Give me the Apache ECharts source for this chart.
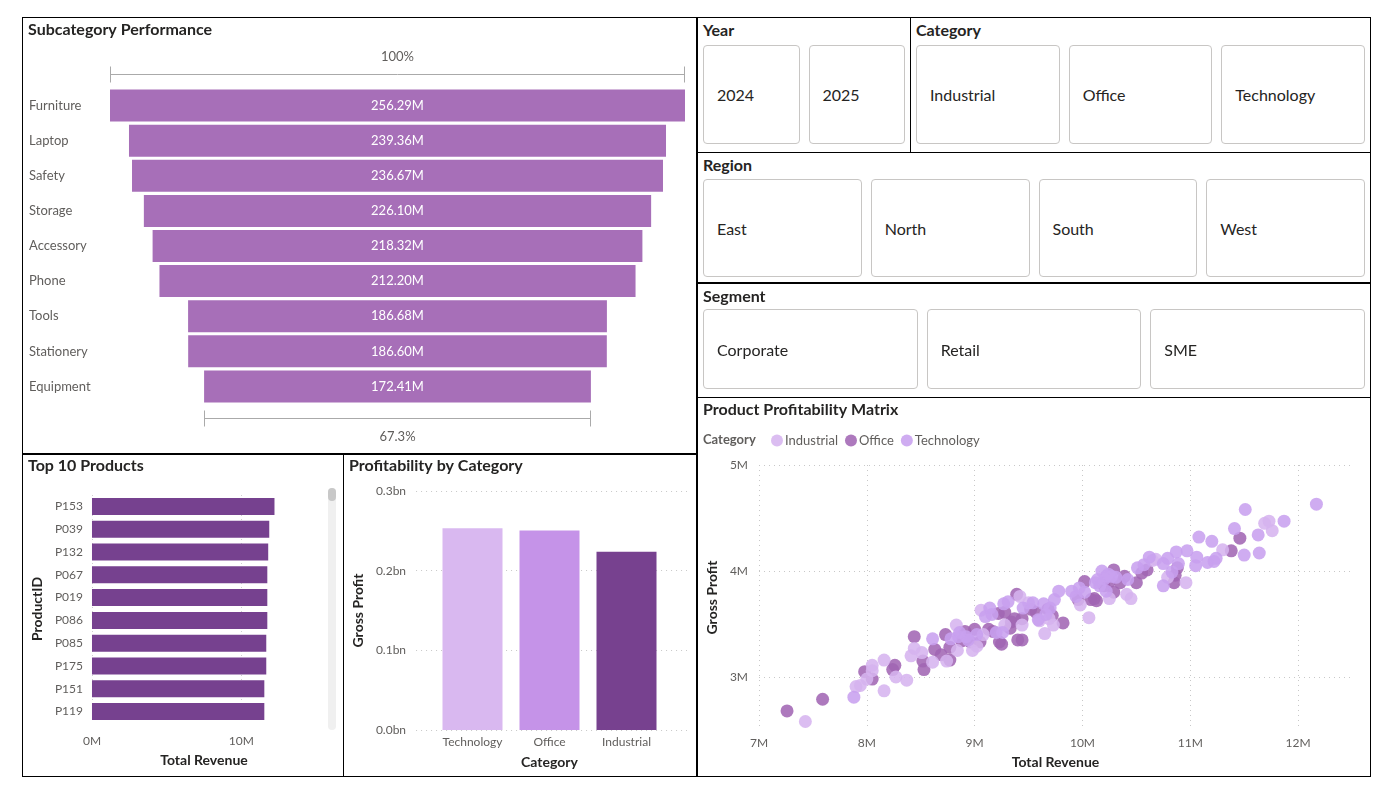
<!DOCTYPE html>
<html>
<head>
<meta charset="utf-8">
<title>Sales Dashboard</title>
<script src="https://cdn.jsdelivr.net/npm/echarts@6/dist/echarts.min.js"></script>
<style>
  body { margin: 0; background: #fff; font-family: Lato, "Open Sans", sans-serif; }
  .chart { position: absolute; }
  .frame { position: absolute; box-sizing: border-box; border: 1px solid #000; pointer-events: none; }
  .panel { position: absolute; box-sizing: border-box; border: 1px solid #000; }
  .panel-title { position: absolute; left: 5px; top: 2px; font: bold 16px Lato, sans-serif; color: #252423; line-height: 20px; }
  .btn { position: absolute; box-sizing: border-box; border: 1px solid #C8C6C4; border-radius: 4px;
         display: flex; align-items: center; padding-left: 13px; font: 16px Lato, sans-serif; color: #252423; }
</style>
</head>
<body>
<div id="funnel" class="chart" style="left:22px;top:17px;width:674px;height:436px"></div>
<div id="top10" class="chart" style="left:22px;top:455px;width:321px;height:321px"></div>
<div id="profit" class="chart" style="left:343px;top:455px;width:353px;height:321px"></div>
<div id="scatter" class="chart" style="left:697px;top:398px;width:673px;height:378px"></div>
<div class="frame" style="left:22px;top:17px;width:675px;height:437px"></div>
<div class="frame" style="left:22px;top:454px;width:322px;height:323px"></div>
<div class="frame" style="left:343px;top:454px;width:354px;height:323px"></div>
<div class="frame" style="left:697px;top:397px;width:674px;height:380px"></div>
<div id="slicers"></div>
<script>
// slicer values
const years = ['2024', '2025'];
const categories = ['Industrial', 'Office', 'Technology'];
const regions = ['East', 'North', 'South', 'West'];
const segments = ['Corporate', 'Retail', 'SME'];

// subcategory revenue (M)
const subcats = ['Furniture', 'Laptop', 'Safety', 'Storage', 'Accessory', 'Phone', 'Tools', 'Stationery', 'Equipment'];
const subcatRevenue = [256.29, 239.36, 236.67, 226.10, 218.32, 212.20, 186.68, 186.60, 172.41];

// top 10 products by revenue (M)
const topProducts = ['P153', 'P039', 'P132', 'P067', 'P019', 'P086', 'P085', 'P175', 'P151', 'P119'];
const topRevenue = [12.22, 11.87, 11.8, 11.74, 11.74, 11.74, 11.67, 11.67, 11.54, 11.54];

// gross profit by category (bn)
const profitCats = ['Technology', 'Office', 'Industrial'];
const grossProfitBn = [0.2532, 0.2503, 0.2237];

// product points: [total revenue M, gross profit M]
const industrialPts = [[7.43,2.58],[7.90,2.91],[7.94,2.92],[8.00,2.98],[8.05,3.11],[8.05,3.06],[8.16,3.16],[8.16,2.87],[8.27,3.00],[8.37,2.97],[8.41,3.20],[8.44,3.27],[8.51,3.23],[8.61,3.14],[8.74,3.15],[8.83,3.49],[8.84,3.25],[8.98,3.25],[9.06,3.63],[9.08,3.40],[9.28,3.49],[9.42,3.76],[9.44,3.49],[9.60,3.53],[9.65,3.41],[9.69,3.55],[9.73,3.49],[9.98,3.68],[10.06,3.56],[10.25,3.74],[10.41,3.78],[10.45,3.74],[10.65,4.10],[10.68,4.11],[10.79,3.94],[10.96,3.89],[11.30,4.20],[11.69,4.45],[11.73,4.47],[11.76,4.38],[9.02,3.29],[9.50,3.70]];
const officePts = [[7.26,2.68],[7.59,2.79],[7.98,3.05],[8.05,2.98],[8.24,3.07],[8.26,3.11],[8.44,3.38],[8.52,3.15],[8.53,3.07],[8.63,3.26],[8.69,3.21],[8.73,3.40],[8.77,3.28],[8.77,3.16],[8.88,3.34],[8.91,3.43],[8.96,3.33],[9.00,3.45],[9.05,3.33],[9.13,3.45],[9.17,3.43],[9.22,3.60],[9.23,3.33],[9.25,3.31],[9.28,3.61],[9.33,3.46],[9.34,3.52],[9.37,3.55],[9.39,3.78],[9.40,3.35],[9.44,3.55],[9.44,3.35],[9.52,3.64],[9.57,3.61],[9.68,3.64],[9.72,3.58],[9.82,3.51],[9.96,3.73],[10.02,3.90],[10.08,3.73],[10.11,3.74],[10.13,3.72],[10.25,3.90],[10.29,4.01],[10.29,3.80],[10.35,3.89],[10.39,3.95],[10.50,3.89],[10.55,3.98],[10.60,4.01],[10.85,3.89],[10.86,3.96],[10.88,4.03],[11.38,4.19],[11.46,4.31],[10.20,3.86]];
const technologyPts = [[7.88,2.81],[8.61,3.36],[8.78,3.36],[8.85,3.38],[8.92,3.38],[9.02,3.40],[9.10,3.57],[9.14,3.65],[9.16,3.59],[9.26,3.42],[9.27,3.69],[9.31,3.71],[9.45,3.65],[9.54,3.70],[9.59,3.54],[9.64,3.69],[9.70,3.65],[9.74,3.73],[9.78,3.81],[9.90,3.81],[9.94,3.76],[9.97,3.84],[10.02,3.80],[10.12,3.89],[10.16,3.86],[10.18,4.00],[10.20,3.92],[10.22,3.95],[10.22,3.81],[10.27,3.95],[10.31,3.94],[10.42,3.92],[10.51,4.03],[10.57,4.06],[10.62,4.13],[10.75,4.07],[10.75,3.86],[10.79,4.12],[10.83,3.99],[10.87,4.18],[10.89,4.07],[10.97,4.19],[11.05,4.05],[11.06,4.13],[11.08,4.32],[11.16,4.08],[11.20,4.28],[11.22,4.09],[11.24,4.12],[11.41,4.40],[11.50,4.15],[11.51,4.58],[11.63,4.34],[11.64,4.17],[11.87,4.47],[12.17,4.63],[8.94,3.35],[8.86,3.42],[9.20,3.42],[10.14,3.92],[10.24,3.97],[9.66,3.59]];

const FONT = 'Lato';
const LABEL = '#605E5C';
const DARK = '#252423';
const GRID = '#C8C8C8';
const titleStyle = { fontFamily: FONT, fontSize: 16, fontWeight: 'bold', color: DARK };
const nameStyle = { fontFamily: FONT, fontSize: 14, fontWeight: 'bold', color: DARK };

// ---- slicers ----
function slicer(title, items, box, btnTop, btnH) {
  const p = document.createElement('div');
  p.className = 'panel';
  Object.assign(p.style, { left: box.x + 'px', top: box.y + 'px', width: box.w + 'px', height: box.h + 'px' });
  const t = document.createElement('div');
  t.className = 'panel-title';
  t.textContent = title;
  p.appendChild(t);
  const pad = 5, gap = 9;
  const w = (box.w - 2 * pad - 2 - gap * (items.length - 1)) / items.length;
  items.forEach((txt, i) => {
    const b = document.createElement('div');
    b.className = 'btn';
    Object.assign(b.style, { left: (pad + i * (w + gap)) + 'px', top: btnTop + 'px', width: w + 'px', height: btnH + 'px' });
    b.textContent = txt;
    p.appendChild(b);
  });
  document.getElementById('slicers').appendChild(p);
}
slicer('Year', years, { x: 697, y: 17, w: 214, h: 136 }, 27, 99);
slicer('Category', categories, { x: 910, y: 17, w: 461, h: 136 }, 27, 99);
slicer('Region', regions, { x: 697, y: 152, w: 674, h: 131 }, 26, 98);
slicer('Segment', segments, { x: 697, y: 283, w: 674, h: 115 }, 25, 80);

// ---- funnel (subcategory performance) ----
const funnel = echarts.init(document.getElementById('funnel'));
const fMax = subcatRevenue[0];
funnel.setOption({
  animation: false,
  title: { text: 'Subcategory Performance', left: 6, top: 5, padding: 0, textStyle: titleStyle },
  grid: { left: 88, right: 11, top: 71, bottom: 49 },
  xAxis: { type: 'value', min: 0, max: fMax, show: false },
  yAxis: {
    type: 'category', data: subcats, inverse: true,
    axisLine: { show: false }, axisTick: { show: false },
    axisLabel: { align: 'left', margin: 81, fontFamily: FONT, fontSize: 13, color: LABEL }
  },
  series: [
    { type: 'bar', stack: 'f', silent: true, barWidth: 32, itemStyle: { color: 'transparent' },
      data: subcatRevenue.map(v => (fMax - v) / 2) },
    { type: 'bar', stack: 'f', barWidth: 32, itemStyle: { color: '#A76FB8' }, data: subcatRevenue,
      label: { show: true, position: 'inside', formatter: p => p.value.toFixed(2) + 'M',
               fontFamily: FONT, fontSize: 13, color: '#fff' } }
  ]
});
(function brackets() {
  const last = subcatRevenue[subcatRevenue.length - 1];
  const px = v => funnel.convertToPixel({ xAxisIndex: 0 }, v);
  const yTop = funnel.convertToPixel({ yAxisIndex: 0 }, subcats[0]) - 32;
  const yBot = funnel.convertToPixel({ yAxisIndex: 0 }, subcats[subcats.length - 1]) + 32;
  const stroke = { stroke: '#AAAAAA', lineWidth: 1 };
  function bracket(x0, x1, y, text, ty) {
    return [
      { type: 'line', shape: { x1: x0, y1: y, x2: x1, y2: y }, style: stroke },
      { type: 'line', shape: { x1: x0, y1: y - 8, x2: x0, y2: y + 8 }, style: stroke },
      { type: 'line', shape: { x1: x1, y1: y - 8, x2: x1, y2: y + 8 }, style: stroke },
      { type: 'text', x: (x0 + x1) / 2, y: ty, style: { text: text, align: 'center', verticalAlign: 'middle',
        font: '13px ' + FONT, fill: LABEL } }
    ];
  }
  const lo = (fMax - last) / 2;
  const g = [].concat(
    bracket(Math.round(px(0)) + 0.5, Math.round(px(fMax)) - 0.5, Math.round(yTop) + 0.5, '100%', yTop - 17),
    bracket(Math.round(px(lo)) + 0.5, Math.round(px(lo + last)) - 0.5, Math.round(yBot) + 0.5,
            (last / fMax * 100).toFixed(1) + '%', yBot + 18)
  );
  funnel.setOption({ graphic: g });
})();

// ---- top 10 products ----
const top10 = echarts.init(document.getElementById('top10'));
top10.setOption({
  animation: false,
  title: { text: 'Top 10 Products', left: 6, top: 3, padding: 0, textStyle: titleStyle },
  grid: { left: 69, right: 27, top: 40, bottom: 53 },
  xAxis: {
    type: 'value', min: 0, max: 15, interval: 5,
    name: 'Total Revenue', nameLocation: 'middle', nameGap: 30, nameTextStyle: nameStyle,
    axisLine: { show: false }, axisTick: { show: false },
    axisLabel: { margin: 12, fontFamily: FONT, fontSize: 12, color: LABEL,
                 formatter: v => (v % 10 === 0 ? v + 'M' : '') },
    splitLine: { lineStyle: { color: ['#D0D0D0', 'transparent'], type: [1, 3] } }
  },
  yAxis: {
    type: 'category', data: topProducts, inverse: true,
    name: 'ProductID', nameLocation: 'middle', nameGap: 46, nameTextStyle: nameStyle,
    axisLine: { show: false }, axisTick: { show: false },
    axisLabel: { margin: 9, fontFamily: FONT, fontSize: 12, color: LABEL }
  },
  series: [{ type: 'bar', data: topRevenue, barWidth: 17, itemStyle: { color: '#76418F' } }],
  graphic: [
    { type: 'rect', shape: { x: 306, y: 33, width: 8, height: 242, r: 4 }, style: { fill: '#F0F0F0' } },
    { type: 'rect', shape: { x: 306, y: 33, width: 8, height: 13, r: 4 }, style: { fill: '#C8C8C8' } }
  ]
});

// ---- profitability by category ----
const profit = echarts.init(document.getElementById('profit'));
profit.setOption({
  animation: false,
  title: { text: 'Profitability by Category', left: 6, top: 3, padding: 0, textStyle: titleStyle },
  grid: [
    { left: 69, right: 9, top: 36, bottom: 46 },
    { left: 91, right: 31, top: 36, bottom: 46 }
  ],
  xAxis: [
    { gridIndex: 0, type: 'value', show: false },
    { gridIndex: 1, type: 'category', data: profitCats,
      name: 'Category', nameLocation: 'middle', nameGap: 25, nameTextStyle: nameStyle,
      axisLine: { show: false }, axisTick: { show: false },
      axisLabel: { interval: 0, margin: 6, fontFamily: FONT, fontSize: 12, color: LABEL } }
  ],
  yAxis: [
    { gridIndex: 0, type: 'value', min: 0, max: 0.3, interval: 0.1,
      name: 'Gross Profit', nameLocation: 'middle', nameGap: 45, nameTextStyle: nameStyle,
      axisLine: { show: false }, axisTick: { show: false },
      axisLabel: { margin: 10, fontFamily: FONT, fontSize: 12, color: LABEL, formatter: v => v.toFixed(1) + 'bn' },
      splitLine: { lineStyle: { color: GRID, type: [1, 4] } } },
    { gridIndex: 1, type: 'value', min: 0, max: 0.3, interval: 0.1, show: false, splitLine: { show: false } }
  ],
  series: [{
    type: 'bar', xAxisIndex: 1, yAxisIndex: 1, barWidth: 60,
    data: grossProfitBn.map((v, i) => ({ value: v, itemStyle: { color: ['#D9B8F0', '#C593E8', '#77418F'][i] } }))
  }]
});

// ---- product profitability matrix ----
const scatter = echarts.init(document.getElementById('scatter'));
const catColors = { Industrial: '#D6B4EF', Office: '#A266B4', Technology: '#C8A0EF' };
function pts(name, data) {
  return { name: name, type: 'scatter', data: data, symbolSize: 13,
           itemStyle: { color: catColors[name], opacity: 0.88 } };
}
scatter.setOption({
  animation: false,
  title: { text: 'Product Profitability Matrix', left: 6, top: 4, padding: 0, textStyle: titleStyle },
  legend: {
    left: 74, top: 36, padding: 0, icon: 'circle', itemWidth: 12, itemHeight: 12, itemGap: 7,
    textStyle: { fontFamily: FONT, fontSize: 13, color: LABEL, padding: [0, 0, 0, -3] },
    data: ['Industrial', 'Office', 'Technology']
  },
  grid: { left: 58, right: 18, top: 67, bottom: 46 },
  xAxis: {
    type: 'value', min: 7, max: 12.5, interval: 0.5,
    name: 'Total Revenue', nameLocation: 'middle', nameGap: 25, nameTextStyle: nameStyle,
    axisLine: { show: false }, axisTick: { show: false },
    axisLabel: { margin: 7, fontFamily: FONT, fontSize: 12, color: LABEL,
                 formatter: v => (Number.isInteger(v) ? v + 'M' : '') },
    splitLine: { lineStyle: { color: [GRID, 'transparent'], type: [1, 4] } }
  },
  yAxis: {
    type: 'value', min: 2.5, max: 5, interval: 0.5,
    name: 'Gross Profit', nameLocation: 'middle', nameGap: 36, nameTextStyle: nameStyle,
    axisLine: { show: false }, axisTick: { show: false },
    axisLabel: { margin: 11, fontFamily: FONT, fontSize: 12, color: LABEL,
                 formatter: v => (Number.isInteger(v) ? v + 'M' : '') },
    splitLine: { lineStyle: { color: ['transparent', GRID], type: [1, 4] } }
  },
  graphic: [{ type: 'text', left: 6, top: 35, style: { text: 'Category', font: 'bold 13px ' + FONT, fill: LABEL } }],
  series: [
    pts('Office', officePts),
    pts('Industrial', industrialPts),
    pts('Technology', technologyPts)
  ]
});
</script>
</body>
</html>
